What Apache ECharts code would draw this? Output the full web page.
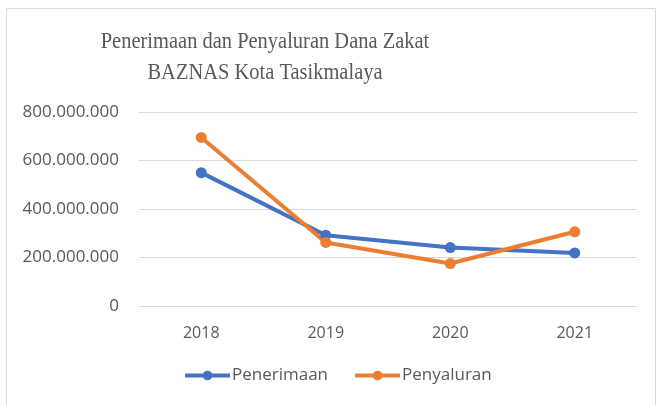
<!DOCTYPE html>
<html>
<head>
<meta charset="utf-8">
<script src="https://cdn.jsdelivr.net/npm/echarts@6/dist/echarts.min.js"></script>
<style>
  html, body { margin: 0; padding: 0; background: #fff; }
  #chart { width: 662px; height: 405px; }
</style>
</head>
<body>
<div id="chart"></div>
<script>
  // data
  const years = ['2018', '2019', '2020', '2021']
  const penerimaan = [550000000, 292000000, 241000000, 219000000]
  const penyaluran = [695000000, 262000000, 175000000, 306000000]
  const titleLines = ['Penerimaan dan Penyaluran Dana Zakat', 'BAZNAS Kota Tasikmalaya']

  const chart = echarts.init(document.getElementById('chart'))

  function fmt(v) {
    return String(v).replace(/\B(?=(\d{3})+(?!\d))/g, '.')
  }

  // title drawn as two centered lines, squeezed a bit like the original
  const titleText = titleLines.map(function (t, i) {
    return {
      type: 'text',
      x: 265,
      y: 42 + i * 31,
      scaleX: 0.89,
      silent: true,
      style: {
        text: t,
        textAlign: 'center',
        textVerticalAlign: 'middle',
        fontFamily: 'Liberation Serif',
        fontSize: 23,
        fill: '#595959'
      }
    }
  })

  chart.setOption({
    animation: false,
    graphic: [{
      type: 'rect',
      shape: {x: 6.5, y: 8.5, width: 649, height: 420},
      style: {fill: 'none', stroke: '#d9d9d9', lineWidth: 1},
      silent: true
    }].concat(titleText),
    legend: {
      left: 178,
      top: 362,
      itemWidth: 45,
      itemHeight: 12,
      itemGap: 25,
      lineStyle: {width: 4},
      textStyle: {
        fontFamily: 'Open Sans',
        fontSize: 17,
        color: '#595959',
        padding: [0, 0, 0, -3]
      },
      data: ['Penerimaan', 'Penyaluran']
    },
    grid: {
      left: 139,
      right: 25,
      top: 112,
      bottom: 99
    },
    xAxis: {
      type: 'category',
      data: years,
      boundaryGap: true,
      axisLine: {show: false},
      axisTick: {show: false},
      axisLabel: {
        margin: 19,
        fontFamily: 'Open Sans',
        fontSize: 16,
        color: '#595959'
      }
    },
    yAxis: {
      type: 'value',
      min: 0,
      max: 800000000,
      interval: 200000000,
      axisLine: {show: false},
      axisTick: {show: false},
      splitLine: {lineStyle: {color: '#d9d9d9', width: 1}},
      axisLabel: {
        margin: 20,
        fontFamily: 'Open Sans',
        fontSize: 17,
        color: '#595959',
        formatter: fmt
      }
    },
    series: [
      {
        name: 'Penerimaan',
        type: 'line',
        data: penerimaan,
        symbol: 'circle',
        symbolSize: 11,
        itemStyle: {color: '#4472C4'},
        lineStyle: {color: '#4472C4', width: 4}
      },
      {
        name: 'Penyaluran',
        type: 'line',
        data: penyaluran,
        symbol: 'circle',
        symbolSize: 11,
        itemStyle: {color: '#ED7D31'},
        lineStyle: {color: '#ED7D31', width: 4}
      }
    ]
  })
</script>
</body>
</html>
